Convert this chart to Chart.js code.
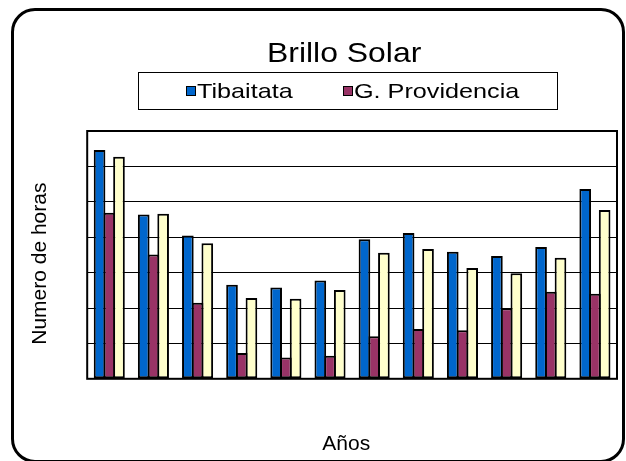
<!DOCTYPE html>
<html lang="es">
<head>
  <meta charset="UTF-8" />
  <title>Brillo Solar</title>
  <script src="https://cdn.jsdelivr.net/npm/chart.js"></script>
  <style>
    html, body { margin: 0; padding: 0; background: #fff; }
    body { width: 626px; height: 461px; position: relative; overflow: hidden; font-family: "Liberation Sans", Arial, sans-serif; }
    #frame { position: absolute; left: 11px; top: 8px; width: 614px; height: 455px; box-sizing: border-box;
             border: 3px solid #000; border-radius: 24px; }
    #chart { position: absolute; left: 0; top: 0; }
    #title { position: absolute; left: 267px; top: 39px; font-size: 28px; line-height: 28px; color: #000;
             white-space: nowrap; transform: scaleX(1.14); transform-origin: left top; }
    #legend { position: absolute; left: 138px; top: 72px; width: 420px; height: 38px; box-sizing: border-box;
              border: 1px solid #000; background: #fff; }
    #legend .item { position: absolute; top: 0; height: 36px; display: flex; align-items: center; white-space: nowrap; }
    #legend .box { width: 8px; height: 8px; border: 1px solid #000; }
    #legend .txt { display: inline-block; font-size: 21px; color: #000; margin-left: 1px;
                   transform: scaleX(1.2); transform-origin: left center; }
  </style>
</head>
<body>
  <div id="frame"></div>
  <canvas id="chart" width="626" height="461"></canvas>
  <div id="title">Brillo Solar</div>
  <div id="legend"></div>

  <script>
    // datos (escala sin etiquetas, 7 divisiones)
    const anios = ['1', '2', '3', '4', '5', '6', '7', '8', '9', '10', '11', '12'];
    const tibaitata   = [6.46, 4.64, 4.05, 2.66, 2.58, 2.78, 3.94, 4.12, 3.59, 3.47, 3.72, 5.36];
    const providencia = [4.69, 3.51, 2.15, 0.73, 0.60, 0.65, 1.20, 1.41, 1.37, 1.99, 2.46, 2.40];
    const tercera     = [6.27, 4.66, 3.83, 2.28, 2.26, 2.51, 3.56, 3.67, 3.13, 2.98, 3.42, 4.77];

    const fontFam = '"Liberation Sans", Arial, sans-serif';

    // marco negro del area de trazado
    const plotBorder = {
      id: 'plotBorder',
      beforeDatasetsDraw(chart) {
        const { ctx, chartArea: a } = chart;
        ctx.save();
        ctx.strokeStyle = '#000';
        ctx.lineWidth = 2;
        ctx.strokeRect(a.left, a.top, a.right - a.left, a.bottom - a.top);
        ctx.restore();
      }
    };

    const chart = new Chart(document.getElementById('chart'), {
      type: 'bar',
      data: {
        labels: anios,
        datasets: [
          { label: 'Tibaitata', data: tibaitata, backgroundColor: '#0066CC' },
          { label: 'G. Providencia', data: providencia, backgroundColor: '#993366' },
          { label: '', data: tercera, backgroundColor: '#FFFFCC' }
        ]
      },
      options: {
        responsive: false,
        animation: false,
        datasets: {
          bar: {
            borderColor: '#000',
            borderWidth: 2,
            borderSkipped: false,
            categoryPercentage: 0.66,
            barPercentage: 1.2
          }
        },
        layout: { padding: { left: 20, right: 9, top: 131, bottom: 4 } },
        plugins: {
          legend: { display: false },
          tooltip: { enabled: false }
        },
        scales: {
          x: {
            ticks: { display: false },
            grid: { display: false, drawTicks: false },
            border: { display: false },
            title: {
              display: true, text: 'Años  ', color: '#000',
              font: { family: fontFam, size: 21 },
              padding: { top: 53, bottom: 0 }
            }
          },
          y: {
            min: 0, max: 7,
            ticks: { display: false, stepSize: 1 },
            grid: { color: '#000', lineWidth: 1, drawTicks: false },
            border: { display: false },
            title: {
              display: true, text: 'Numero de horas   ', color: '#000',
              font: { family: fontFam, size: 21 },
              padding: { top: 8, bottom: 34 }
            }
          }
        }
      },
      plugins: [plotBorder]
    });

    // leyenda HTML (solo las dos series con nombre)
    const legend = document.getElementById('legend');
    const itemLeft = [47, 204];
    chart.data.datasets.filter(d => d.label).forEach((d, i) => {
      const item = document.createElement('div');
      item.className = 'item';
      item.style.left = itemLeft[i] + 'px';
      const box = document.createElement('span');
      box.className = 'box';
      box.style.background = d.backgroundColor;
      const txt = document.createElement('span');
      txt.className = 'txt';
      txt.textContent = d.label;
      item.appendChild(box);
      item.appendChild(txt);
      legend.appendChild(item);
    });
  </script>
</body>
</html>
